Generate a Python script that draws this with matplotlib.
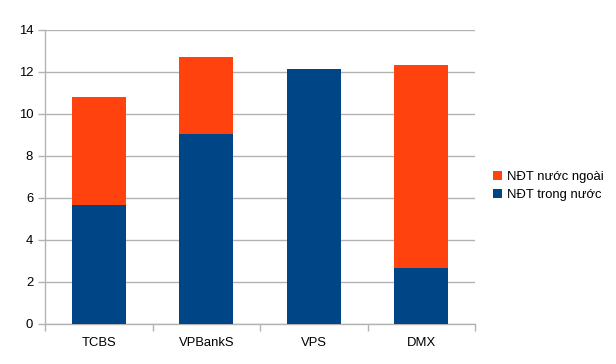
import matplotlib.pyplot as plt
import numpy as np

plt.rcParams['font.family'] = ['Liberation Sans', 'DejaVu Sans']

categories = ["TCBS", "VPBankS", "VPS", "DMX"]
domestic = [5.68, 9.03, 12.12, 2.67]
foreign = [5.13, 3.67, 0.0, 9.68]
series_names = ["NĐT trong nước", "NĐT nước ngoài"]

blue = "#004586"
orange = "#ff420e"
grid = "#b3b3b3"

fig = plt.figure(figsize=(6.16, 3.64), dpi=100)
ax = fig.add_axes([45 / 616, 40 / 364, 430 / 616, 294 / 364])

x = np.arange(len(categories))
b1 = ax.bar(x, domestic, width=0.5, color=blue, label=series_names[0], zorder=3)
b2 = ax.bar(x, foreign, width=0.5, bottom=domestic, color=orange, label=series_names[1], zorder=3)

ax.set_xlim(-0.5, len(categories) - 0.5)
ax.set_ylim(0, 14)
ax.set_yticks(np.arange(0, 15, 2))
ax.set_xticks(x)
ax.set_xticklabels(categories)
ax.set_xticks(np.arange(-0.5, len(categories), 1.0), minor=True)
ax.tick_params(axis="x", which="major", length=0, pad=9, labelsize=9.4)
ax.tick_params(axis="x", which="minor", length=5, color=grid, width=1)
ax.tick_params(axis="y", length=5, color=grid, width=1, pad=3.5, labelsize=9.4)
ax.yaxis.grid(True, color=grid, linewidth=1, zorder=0)

for side in ["top", "right"]:
    ax.spines[side].set_visible(False)
for side in ["left", "bottom"]:
    ax.spines[side].set_color(grid)
    ax.spines[side].set_linewidth(1)

fig.legend(handles=[b2, b1], labels=[series_names[1], series_names[0]],
           loc="center left", bbox_to_anchor=(481 / 616, 1 - 186 / 364),
           frameon=False, fontsize=9.4, handlelength=0.7, handleheight=0.7,
           handletextpad=0.4, labelspacing=0.45)

fig.savefig("out.png", dpi=100)
